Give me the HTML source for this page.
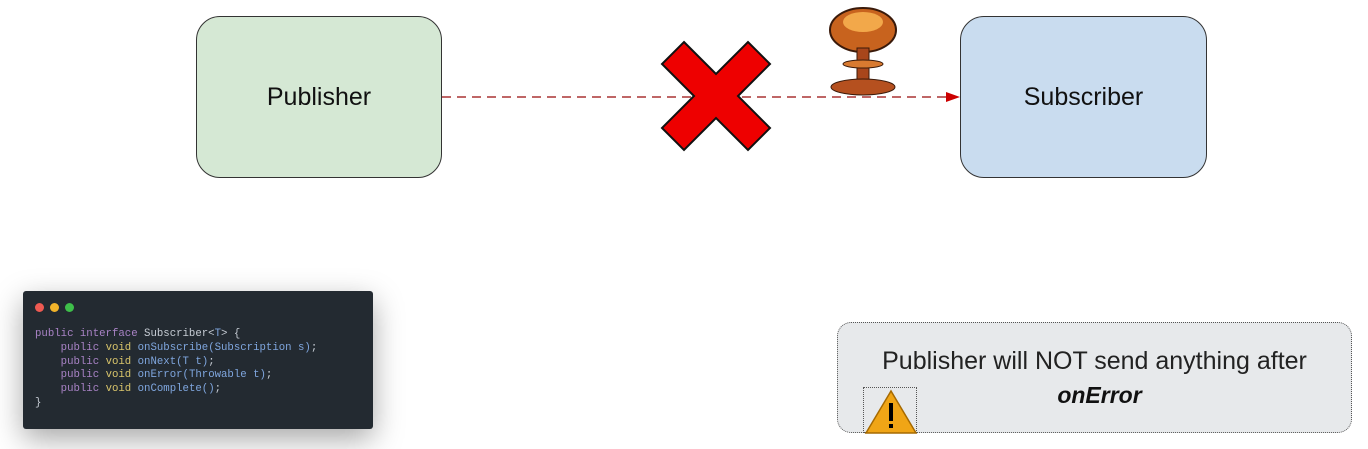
<!DOCTYPE html>
<html><head><meta charset="utf-8"><style>
body{margin:0;width:1368px;height:449px;background:#fff;position:relative;overflow:hidden;font-family:"Liberation Sans",sans-serif}
.box{position:absolute;border:1.5px solid #333;border-radius:24px;display:flex;align-items:center;justify-content:center;font-size:25px;color:#111;box-sizing:border-box}
.code{position:absolute;left:23px;top:291px;width:350px;height:138px;background:#232a31;border-radius:3px;box-shadow:0 10px 30px rgba(0,0,0,.35)}
.code pre{margin:0;position:absolute;left:12px;top:37px;font-family:"Liberation Mono",monospace;font-size:10.7px;line-height:13.8px;color:#c7cdd5}
.k{color:#a983c6}.v{color:#d9c56b}.f{color:#7fa6de}
.dot{position:absolute;top:12px;width:9px;height:9px;border-radius:50%}
.note{position:absolute;left:837px;top:322px;width:515px;height:111px;background:#e7e9eb;border:1.5px dotted #555;border-radius:14px;box-sizing:border-box}
</style></head><body>
<div class="box" style="left:196px;top:16px;width:246px;height:162px;background:#d5e8d4">Publisher</div>
<div class="box" style="left:960px;top:16px;width:247px;height:162px;background:#c9dcef">Subscriber</div>
<svg width="1368" height="449" style="position:absolute;left:0;top:0">
<line x1="442" y1="97" x2="950" y2="97" stroke="#a33" stroke-width="1.5" stroke-dasharray="9,6"/>
<polygon points="960,97 946,92 946,102" fill="#c00"/>
<polygon points="684,42 716,74 748,42 770,64 738,96 770,128 748,150 716,118 684,150 662,128 694,96 662,64" fill="#e00" stroke="#111" stroke-width="2"/>
<ellipse cx="863" cy="30" rx="33" ry="22" fill="#c8631e" stroke="#3a1a0a" stroke-width="2"/>
<ellipse cx="863" cy="22" rx="20" ry="10" fill="#f2a84a"/>
<rect x="857" y="48" width="12" height="38" fill="#a8461b" stroke="#3a1a0a"/>
<ellipse cx="863" cy="64" rx="20" ry="4" fill="#d87a30" stroke="#3a1a0a"/>
<ellipse cx="863" cy="87" rx="32" ry="8" fill="#b5501f" stroke="#3a1a0a"/>
</svg>
<div class="code">
<div class="dot" style="left:12px;background:#ee5a52"></div>
<div class="dot" style="left:27px;background:#f1b32a"></div>
<div class="dot" style="left:42px;background:#3ebf4a"></div>
<pre><span class="k">public interface</span> Subscriber&lt;<span class="f">T</span>&gt; {
    <span class="k">public</span> <span class="v">void</span> <span class="f">onSubscribe(Subscription s)</span>;
    <span class="k">public</span> <span class="v">void</span> <span class="f">onNext(T t)</span>;
    <span class="k">public</span> <span class="v">void</span> <span class="f">onError(Throwable t)</span>;
    <span class="k">public</span> <span class="v">void</span> <span class="f">onComplete()</span>;
}</pre>
</div>
<div class="note">
<div style="position:absolute;left:0;width:100%;top:24px;text-align:center;font-size:25px;color:#222">Publisher will NOT send anything after</div>
<div style="position:absolute;left:0;width:100%;top:59px;text-align:center;font-size:23px;font-weight:bold;font-style:italic;color:#111;padding-left:10px;box-sizing:border-box">onError</div>
<div style="position:absolute;left:25px;top:64px;width:54px;height:46px;border:1.5px dotted #555;box-sizing:border-box"></div>
<svg style="position:absolute;left:26px;top:66px" width="54" height="46"><polygon points="27,2 52,44 2,44" fill="#f0a516" stroke="#a66a00" stroke-width="1.5"/><rect x="25" y="14" width="4" height="18" fill="#000"/><rect x="25" y="35" width="4" height="4" fill="#000"/></svg>
</div>
</body></html>
